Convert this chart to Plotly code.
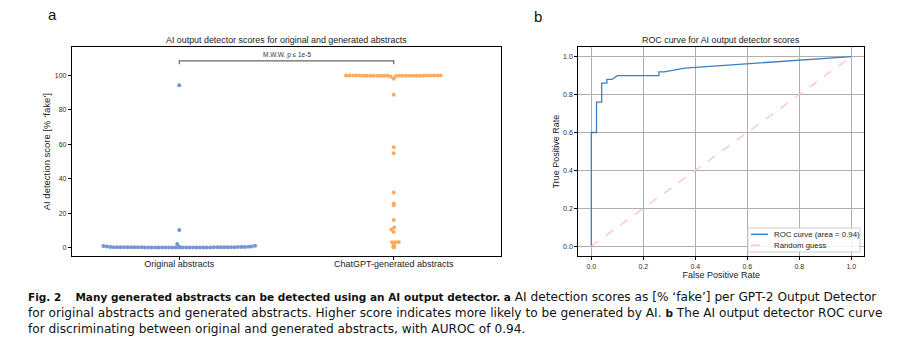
import math
import plotly.graph_objects as go

W, H = 899, 345

# ---------------- data ----------------
categories = ["Original abstracts", "ChatGPT-generated abstracts"]

original_scores = [
    94.3, 10.2, 2.1, 1.1, 0.9,
    0.02, 0.02, 0.03, 0.03, 0.03, 0.04, 0.04, 0.04, 0.05, 0.05,
    0.05, 0.06, 0.06, 0.06, 0.07, 0.07, 0.07, 0.08, 0.08, 0.08,
    0.09, 0.09, 0.10, 0.10, 0.11, 0.11, 0.12, 0.12, 0.13, 0.14,
    0.15, 0.16, 0.17, 0.18, 0.20, 0.22, 0.24, 0.27, 0.30, 0.34,
    0.38, 0.42, 0.48, 0.55, 0.62,
]

generated_scores = [
    99.98, 99.98, 99.98, 99.97, 99.97, 99.97, 99.97, 99.96, 99.96,
    99.96, 99.95, 99.95, 99.95, 99.94, 99.94, 99.93, 99.93, 99.92,
    99.92, 99.91, 99.90, 99.89, 99.88, 99.87, 99.85, 99.83, 99.80,
    99.3, 98.2, 88.9, 58.3, 54.8, 32.0, 25.6, 24.6, 16.0, 11.6,
    10.5, 9.1, 3.2, 3.1, 3.0, 1.3, 0.45, 0.40, 0.35, 0.30, 0.25,
    0.20, 0.15,
]

roc_fpr = [0.0, 0.0, 0.02, 0.02, 0.04, 0.04, 0.06, 0.06, 0.08, 0.10,
           0.26, 0.26, 0.28, 0.36, 1.0]
roc_tpr = [0.0, 0.60, 0.60, 0.76, 0.76, 0.86, 0.86, 0.88, 0.88, 0.90,
           0.90, 0.92, 0.92, 0.94, 1.0]
roc_auc = 0.94
chance_x = [0.0, 1.0]
chance_y = [0.0, 1.0]

y_ticks_a = [0, 20, 40, 60, 80, 100]
ticks_b = [0.0, 0.2, 0.4, 0.6, 0.8, 1.0]
bracket_y = 108.5
bracket_drop = 2.0
significance_label = "M.W.W. p \u2264 1e-5"
roc_label = "ROC curve (area = %.2f)" % roc_auc
chance_label = "Random guess"

# ---------------- layout geometry (px) ----------------
A_L, A_R = 72, 501
B_L, B_R = 578.3, 864.3
P_T, P_B = 47, 256.3
XA_RANGE = [-0.5, 1.5]
YA_RANGE = [-5.1, 116.6]

ROC_COLOR = "#3f7fbd"
CHANCE_COLOR = "#ffc0cb"


def px(x):
    return x / W


def py(y):
    return 1 - y / H


# ---------------- beeswarm (computed from values) ----------------
def swarm(values, center, d_px=3.45):
    sx = (A_R - A_L) / (XA_RANGE[1] - XA_RANGE[0])
    sy = (P_B - P_T) / (YA_RANGE[1] - YA_RANGE[0])
    order = sorted(range(len(values)), key=lambda i: values[i])
    placed = []
    xs = [0.0] * len(values)
    for i in order:
        yp = values[i] * sy
        near = [(x0, y0) for (x0, y0) in placed if abs(y0 - yp) < d_px]
        cands = [0.0]
        for x0, y0 in near:
            dx = math.sqrt(max(d_px ** 2 - (y0 - yp) ** 2, 0.0))
            cands += [x0 - dx, x0 + dx]
        cands = sorted(set(round(c, 6) for c in cands), key=lambda c: (abs(c), c))
        best = cands[0]
        for c in cands:
            ok = all((c - x0) ** 2 + (yp - y0) ** 2 >= d_px ** 2 - 1e-6 for x0, y0 in near)
            if ok:
                best = c
                break
        placed.append((best, yp))
        xs[i] = center + best / sx
    return xs


x_orig = swarm(original_scores, 0)
x_gen = swarm(generated_scores, 1)

TXT = "#222222"
TICK = "#3a2626"
FONT = "Liberation Sans"

fig = go.Figure()
fig.add_trace(go.Scatter(x=x_orig, y=original_scores, mode="markers",
                         marker=dict(size=4, color="#6f97d6"), showlegend=False,
                         xaxis="x", yaxis="y", hoverinfo="y"))
fig.add_trace(go.Scatter(x=x_gen, y=generated_scores, mode="markers",
                         marker=dict(size=4, color="#fdaa5e"), showlegend=False,
                         xaxis="x", yaxis="y", hoverinfo="y"))

fig.add_trace(go.Scatter(x=roc_fpr, y=roc_tpr, mode="lines",
                         line=dict(color=ROC_COLOR, width=1.3),
                         name=roc_label, showlegend=False,
                         xaxis="x2", yaxis="y2"))
fig.add_trace(go.Scatter(x=chance_x, y=chance_y, mode="lines",
                         line=dict(color=CHANCE_COLOR, width=1.3, dash="dash"),
                         name=chance_label, showlegend=False, xaxis="x2", yaxis="y2"))

# significance bracket
fig.add_trace(go.Scatter(x=[0, 0, 1, 1],
                         y=[bracket_y - bracket_drop, bracket_y, bracket_y, bracket_y - bracket_drop],
                         mode="lines", line=dict(color="#666666", width=1.2),
                         showlegend=False, hoverinfo="skip", xaxis="x", yaxis="y"))

axis_common = dict(showline=True, linecolor="black", linewidth=1.2, mirror=True,
                   ticks="outside", ticklen=3, tickwidth=1, tickcolor="black",
                   zeroline=False, automargin=False)

fig.update_layout(
    width=W, height=H,
    margin=dict(l=0, r=0, t=0, b=0),
    paper_bgcolor="white", plot_bgcolor="white",
    font=dict(family=FONT, color=TXT),
    showlegend=False,
    xaxis=dict(domain=[px(A_L), px(A_R)], range=XA_RANGE, tickvals=[0, 1],
               ticktext=categories, showgrid=False, ticklabelstandoff=-4,
               tickfont=dict(size=9, color=TXT), anchor="y", **axis_common),
    yaxis=dict(domain=[py(P_B), py(P_T)], range=YA_RANGE, tickvals=y_ticks_a,
               showgrid=False, tickfont=dict(size=7, color=TICK), anchor="x",
               title=dict(text="AI detection score [% \u2018fake\u2019]",
                          font=dict(size=9.5, color=TXT), standoff=2),
               **axis_common),
    xaxis2=dict(domain=[px(B_L), px(B_R)], range=[-0.05, 1.05], tickvals=ticks_b,
                tickformat=".1f", showgrid=True, gridcolor="#b0b0b0", gridwidth=1,
                tickfont=dict(size=7, color=TICK), anchor="y2",
                title=dict(text="False Positive Rate", font=dict(size=9, color=TXT), standoff=1),
                **axis_common),
    yaxis2=dict(domain=[py(P_B), py(P_T)], range=[-0.053, 1.051], tickvals=ticks_b,
                tickformat=".1f", showgrid=True, gridcolor="#b0b0b0", gridwidth=1,
                tickfont=dict(size=7, color=TICK), anchor="x2",
                title=dict(text="True Positive Rate", font=dict(size=9, color=TXT), standoff=1),
                **axis_common),
)

# ---- compact legend box for panel b (matplotlib-style) ----
LG_L, LG_R, LG_T, LG_B = 748, 860, 228, 252
fig.add_shape(type="rect", xref="paper", yref="paper",
              x0=px(LG_L), x1=px(LG_R), y0=py(LG_B), y1=py(LG_T),
              fillcolor="rgba(255,255,255,0.85)", line=dict(color="#d0d0d0", width=1))
legend_items = [(roc_label, ROC_COLOR, "solid", 234.3), (chance_label, CHANCE_COLOR, "dash", 245.3)]
for label, col, dash, yy in legend_items:
    fig.add_shape(type="line", xref="paper", yref="paper",
                  x0=px(751), x1=px(768), y0=py(yy), y1=py(yy),
                  line=dict(color=col, width=1.5, dash=dash))
    fig.add_annotation(text=label, x=px(772), y=py(yy), xref="paper", yref="paper",
                       xanchor="left", yanchor="middle", showarrow=False,
                       font=dict(size=7.8, family=FONT, color=TXT))

ann = [
    dict(text="a", x=px(46), y=py(14), font=dict(size=15, color="#111")),
    dict(text="b", x=px(532), y=py(17), font=dict(size=15, color="#111")),
    dict(text="AI output detector scores for original and generated abstracts",
         x=px((A_L + A_R) / 2), y=py(40), xanchor="center", font=dict(size=8.9)),
    dict(text="ROC curve for AI output detector scores",
         x=px((B_L + B_R) / 2), y=py(40), xanchor="center", font=dict(size=8.9)),
]
for a in ann:
    a.setdefault("xanchor", "left")
    a.update(xref="paper", yref="paper", yanchor="middle", showarrow=False)
    a["font"].setdefault("family", FONT)
    a["font"].setdefault("color", TXT)
    fig.add_annotation(**a)

fig.add_annotation(text=significance_label, x=0.5, y=bracket_y, xref="x", yref="y",
                   yanchor="bottom", showarrow=False,
                   font=dict(size=6.5, family=FONT, color="#333"))

CAP = "DejaVu Sans"
B = '<span style="font-size:10.5px"><b>'
BE = '</b></span>'
caption = (
    B + "Fig. 2\u2003 Many generated abstracts can be detected using an AI output detector. a" + BE
    + " AI detection scores as [% \u2018fake\u2019] per GPT-2 Output Detector<br>"
    + "for original abstracts and generated abstracts. Higher score indicates more likely to be "
    "generated by AI. " + B + "b" + BE + " The AI output detector ROC curve<br>"
    + "for discriminating between original and generated abstracts, with AUROC of 0.94."
)
fig.add_annotation(text=caption, x=px(26), y=py(312.5), xref="paper", yref="paper",
                   xanchor="left", yanchor="middle", align="left", showarrow=False,
                   font=dict(size=12.15, family=CAP, color="#111"))

fig.write_html("out.html")
